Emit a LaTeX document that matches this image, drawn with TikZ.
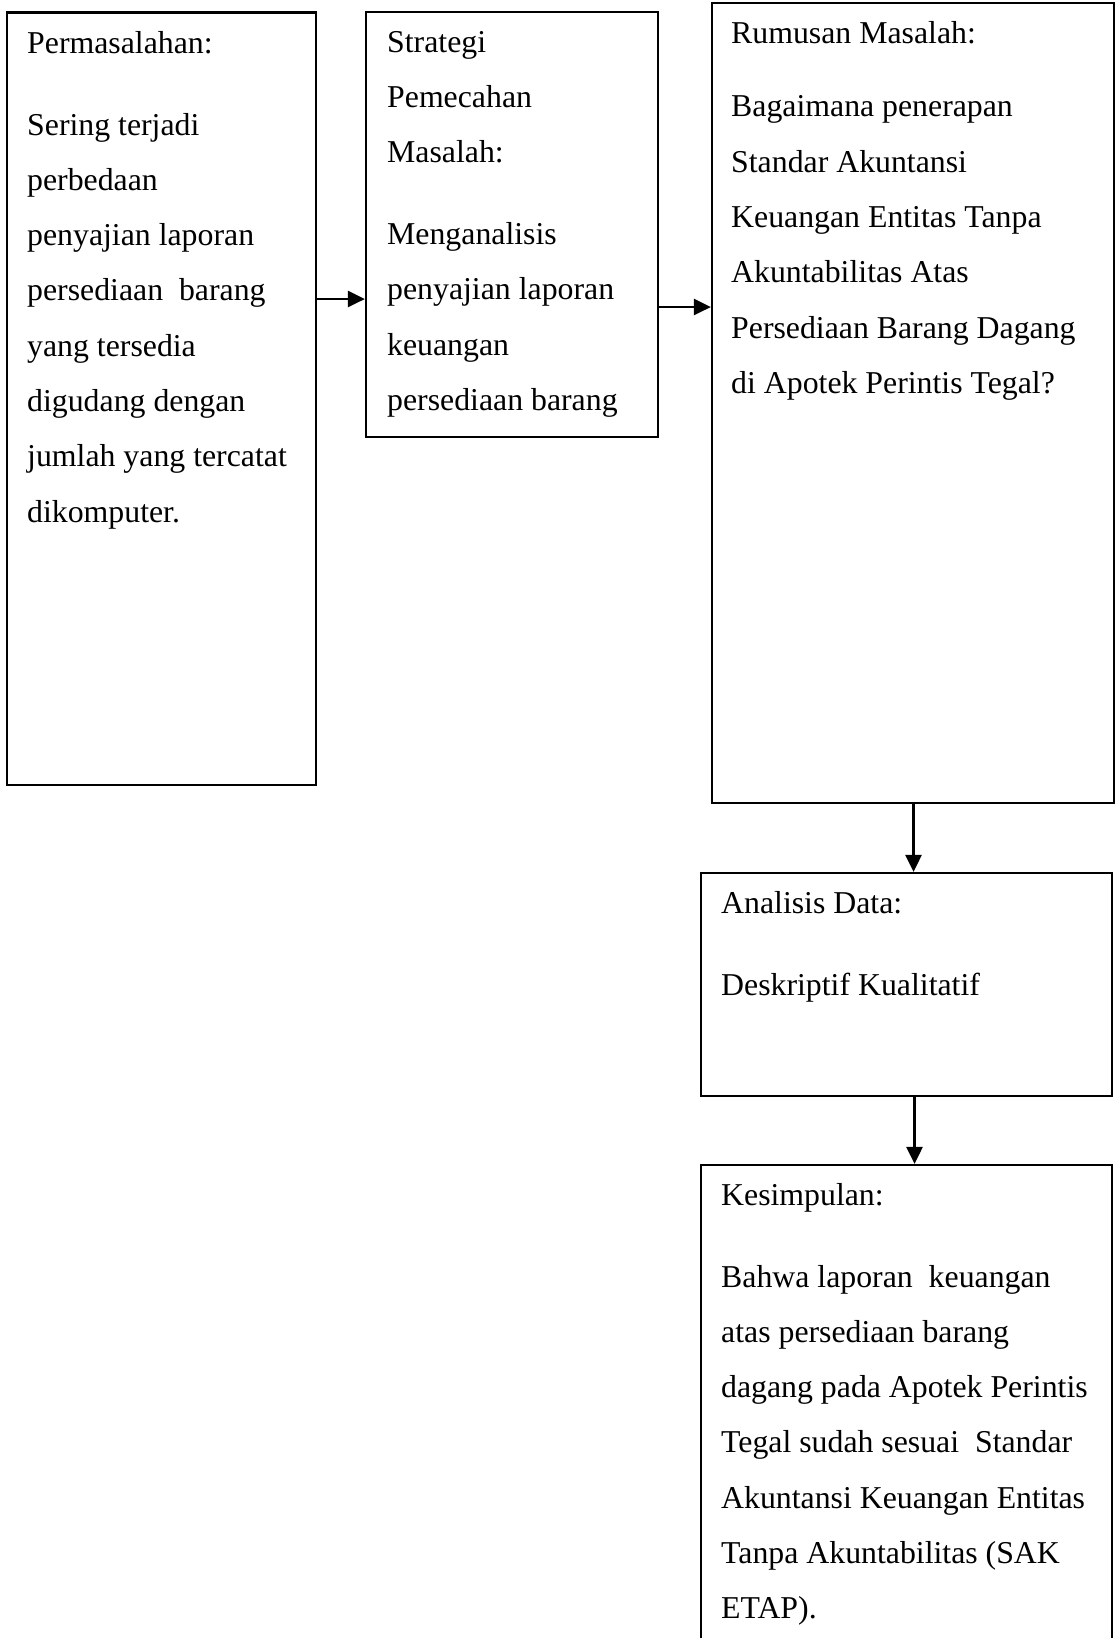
\documentclass[tikz,border=0pt]{standalone}
\usepackage{fontspec}
\setmainfont{Liberation Serif}
\usetikzlibrary{arrows.meta}
\tikzset{
  box/.style={draw=black, line width=2.2pt, rectangle, inner sep=0pt},
  arr/.style={draw=black, line width=2.8pt, -{Triangle[length=17pt,width=16pt]}},
  txt/.style={anchor=base west, inner sep=0pt}
}
\newcommand{\bodytext}[2]{\parbox[t]{#1}{\fontsize{31.8}{55.3}\selectfont\raggedright #2}}
\begin{document}
\begin{tikzpicture}[x=1pt,y=-1pt]
\clip (0,0) rectangle (1115,1638);
\fill[white] (0,0) rectangle (1115,1638);
% boxes
\node[box, minimum width=309pt, minimum height=772.5pt] (b1) at (161.5,398.75) {};
\node[box, minimum width=292pt, minimum height=425pt] (b2) at (512,224.5) {};
\node[box, minimum width=402pt, minimum height=800pt] (b3) at (913,403) {};
\node[box, minimum width=411pt, minimum height=223pt] (b4) at (906.5,984.5) {};
\node[box, minimum width=411pt, minimum height=495pt] (b5) at (906.5,1412.5) {};
% texts
\node[txt] (t1) at (27,53) {\bodytext{285pt}{Permasalahan:\\[26.7pt]
Sering terjadi\\
perbedaan\\
penyajian laporan\\
persediaan\ \ barang\\
yang tersedia\\
digudang dengan\\
jumlah yang tercatat\\
dikomputer.}};
\node[txt] (t2) at (387,52) {\bodytext{270pt}{Strategi\\
Pemecahan\\
Masalah:\\[26.7pt]
Menganalisis\\
penyajian laporan\\
keuangan\\
persediaan barang}};
\node[txt] (t3) at (731,43) {\bodytext{380pt}{Rumusan Masalah:\\[18.5pt]
Bagaimana penerapan\\
Standar Akuntansi\\
Keuangan Entitas Tanpa\\
Akuntabilitas Atas\\
Persediaan Barang Dagang\\
di Apotek Perintis Tegal?}};
\node[txt] (t4) at (721,913) {\bodytext{385pt}{Analisis Data:\\[26.7pt]
Deskriptif Kualitatif}};
\node[txt] (t5) at (721,1205) {\bodytext{385pt}{Kesimpulan:\\[26.7pt]
Bahwa laporan\ \ keuangan\\
atas persediaan barang\\
dagang pada Apotek Perintis\\
Tegal sudah sesuai\ \ Standar\\
Akuntansi Keuangan Entitas\\
Tanpa Akuntabilitas (SAK\\
ETAP).}};
% connectors
\coordinate (y1) at (0,299);
\coordinate (y2) at (0,307);
\coordinate (x3) at (913.5,0);
\coordinate (x4) at (914.5,0);
\draw[arr] (b1.east |- y1) -- (b2.west |- y1);
\draw[arr] (b2.east |- y2) -- (b3.west |- y2);
\draw[arr] (b3.south -| x3) -- (b4.north -| x3);
\draw[arr] (b4.south -| x4) -- (b5.north -| x4);
\end{tikzpicture}
\end{document}
